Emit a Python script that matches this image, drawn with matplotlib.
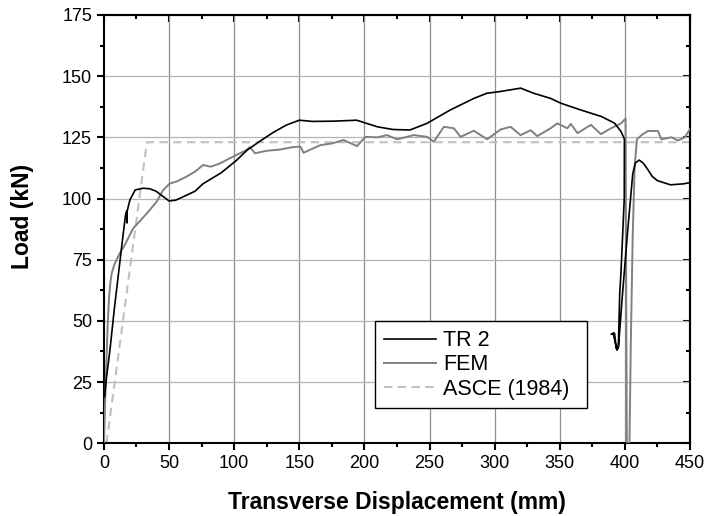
import matplotlib
matplotlib.use("Agg")
import matplotlib.pyplot as plt
from matplotlib.ticker import MultipleLocator

plt.rcParams['font.family'] = ['Liberation Sans', 'DejaVu Sans']

# TR 2 (test) curve
tr2_x = [0.5, 2, 4.6, 8, 12, 14, 16.5, 17.5, 17.7, 17.9, 20, 24, 30, 35, 40, 45, 50, 55, 60, 70,
         76, 90, 102, 110, 120, 130, 140, 150, 160, 176, 194, 210, 222, 235, 248, 266, 284, 294,
         304, 320, 330, 343, 351, 366, 382, 392, 397, 399.6, 399.5, 397, 396, 395, 394, 393,
         391, 389.5, 392, 393.5, 395, 398, 402, 406, 408, 411, 414, 417.4, 421, 425, 435, 445, 450]
tr2_y = [19, 27, 38, 55, 73, 82, 93, 95, 90, 95, 99.5, 103.5, 104.2, 104, 103, 101, 99, 99.3, 100.5, 103,
         106, 110.5, 115.7, 119.8, 123.5, 127, 130, 132, 131.5, 131.6, 132, 129.3, 128.2, 128, 130.7, 136.2, 140.9, 143,
         143.7, 145.1, 143, 140.9, 138.9, 136.2, 133.5, 130.8, 127.4, 124.3, 100, 70, 61, 40, 38, 40,
         45, 44.5, 45, 38.5, 39, 60, 86, 110, 114.5, 115.7, 114.5, 112, 109, 107.3, 105.6, 106, 106.5]

# FEM curve
fem_x = [0, 1, 2, 3, 4, 5, 6, 8, 12, 16, 22.3, 28, 35, 40.3, 45.4, 50.5, 56, 63.3, 70, 76.2, 82, 89,
         95, 101.8, 109.5, 112, 116, 125, 135, 145, 150.8, 153.3, 166.1, 175, 184, 194.3, 200.8, 210,
         217.4, 225.1, 237.9, 248.1, 253.3, 261, 268.7, 273.8, 284, 294.2, 304.5, 312.2, 319.9, 327.6,
         332.7, 343, 348.1, 355.8, 358.5, 363.6, 373.9, 381.6, 389.3, 397, 400.5, 401, 401.5, 403.5,
         404.5, 406, 407.5, 409.2, 413, 417.7, 425.4, 428, 435.7, 440.8, 446, 450]
fem_y = [0, 18, 35, 50, 60, 66, 69.5, 73, 77.5, 81, 87.7, 91, 95.2, 98.6, 103.4, 106.1, 107, 108.9, 111, 113.7, 113, 114.3,
         116, 117.8, 119.8, 121, 118.5, 119.5, 120, 121, 121.2, 118.7, 121.8, 122.5, 123.9, 121.4, 125.2, 125,
         125.9, 124.2, 125.9, 125.2, 123.2, 129.3, 128.7, 125.2, 127.7, 124.2, 128.2, 129.3, 125.9, 127.9,
         125.5, 128.7, 130.7, 128.7, 130.5, 126.7, 130.1, 126.3, 128.7, 130.7, 132.7, 60, 0, 0,
         40, 85, 113, 124.2, 126, 127.6, 127.6, 124.2, 125, 123.7, 125, 128.4]

# ASCE (1984) bilinear model
asce_x = [2, 33, 450]
asce_y = [0, 123, 123]

xticks = [0, 50, 100, 150, 200, 250, 300, 350, 400, 450]
yticks = [0, 25, 50, 75, 100, 125, 150, 175]

fig = plt.figure(figsize=(7.07, 5.16), dpi=100)
ax = fig.add_axes([0.147, 0.141, 0.829, 0.830])

for xv in xticks[1:-1]:
    ax.axvline(xv, color='#8e8e8e', lw=0.9, zorder=1)
for yv in yticks[1:-1]:
    ax.axhline(yv, color='#b4b4b4', lw=0.9, zorder=1)

ax.plot(tr2_x, tr2_y, color='black', lw=1.2, label='TR 2', zorder=4)
ax.plot(fem_x, fem_y, color='#808080', lw=1.4, label='FEM', zorder=3)
ax.plot(asce_x, asce_y, color='#c0c0c0', lw=1.5, linestyle=(0, (4, 2.6)), label='ASCE (1984)', zorder=2)

ax.set_xlim(0, 450)
ax.set_ylim(0, 175)
ax.set_xticks(xticks)
ax.set_yticks(yticks)
ax.xaxis.set_minor_locator(MultipleLocator(25))
ax.yaxis.set_minor_locator(MultipleLocator(12.5))

ax.tick_params(axis='both', which='major', length=5, width=1.5, labelsize=13, direction='out',
               top=False, right=False)
ax.tick_params(axis='both', which='minor', length=3, width=1.5, direction='out', top=False, right=False)

# mirrored inward ticks on top/right
secx = ax.secondary_xaxis('top')
secx.set_xticks(xticks)
secx.xaxis.set_minor_locator(MultipleLocator(25))
secx.tick_params(which='major', direction='in', length=5, width=1.5, labeltop=False)
secx.tick_params(which='minor', direction='in', length=3, width=1.5)
secx.spines['top'].set_linewidth(1.5)
secy = ax.secondary_yaxis('right')
secy.set_yticks(yticks)
secy.yaxis.set_minor_locator(MultipleLocator(12.5))
secy.tick_params(which='major', direction='in', length=5, width=1.5, labelright=False)
secy.tick_params(which='minor', direction='in', length=3, width=1.5)
secy.spines['right'].set_linewidth(1.5)

for s in ax.spines.values():
    s.set_linewidth(1.5)

ax.set_xlabel('Transverse Displacement (mm)', fontsize=16.5, fontweight='bold')
ax.set_ylabel('Load (kN)', fontsize=16.5, fontweight='bold')
ax.xaxis.set_label_coords(0.5, -0.112)
ax.yaxis.set_label_coords(-0.12, 0.53)

leg = ax.legend(loc='lower left', bbox_to_anchor=(0.4625, 0.082, 0.3615, 0.203), mode='expand',
                fontsize=15.5, frameon=True, fancybox=False, framealpha=1, edgecolor='black',
                borderaxespad=0, handlelength=2.45, handletextpad=0.33, labelspacing=0.15,
                borderpad=0.4)
leg.get_frame().set_linewidth(1.0)

fig.savefig('out.png', dpi=100)
